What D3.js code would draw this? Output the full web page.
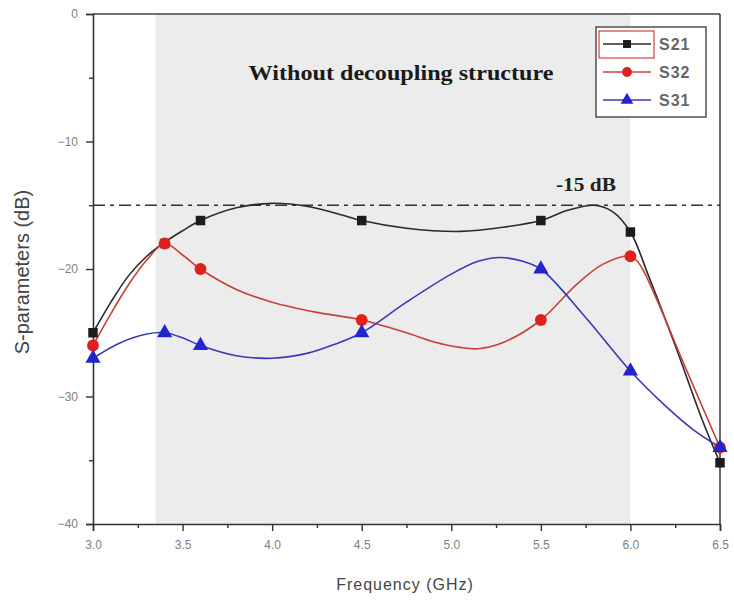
<!DOCTYPE html>
<html><head><meta charset="utf-8">
<script src="https://cdn.jsdelivr.net/npm/d3@7"></script>
<style>body{margin:0;background:#fff;}svg{display:block;}</style>
</head><body>
<svg id="c" width="734" height="605"></svg>
<script>
// ---- data ----
const xTicks = [3.0, 3.5, 4.0, 4.5, 5.0, 5.5, 6.0, 6.5];
const yTicks = [0, -10, -20, -30, -40];
const shadeBand = [3.35, 6.0];
const refLevel = -15;
const refLabel = "-15 dB";
const titleText = "Without decoupling structure";
const seriesNames = ["S21", "S32", "S31"];

const s21CurveF = [3.0,3.1,3.2,3.3,3.4,3.5,3.6,3.8,4.0,4.2,4.4,4.5,4.75,5.05,5.3,5.5,5.65,5.8,5.9,6.0,6.1,6.25,6.4,6.5];
const s21CurveV = [-25.0,-22.6,-20.5,-19.0,-17.9,-17.0,-16.2,-15.2,-14.85,-15.1,-15.8,-16.2,-16.8,-17.05,-16.7,-16.2,-15.4,-15.0,-15.5,-17.1,-20.5,-26.0,-31.8,-35.2];
const s32CurveF = [3.0,3.1,3.2,3.3,3.4,3.5,3.6,3.8,4.0,4.25,4.5,4.75,4.9,5.05,5.15,5.3,5.5,5.7,5.85,6.0,6.05,6.15,6.3,6.5];
const s32CurveV = [-26.0,-23.5,-21.2,-19.3,-18.0,-18.9,-20.0,-21.6,-22.6,-23.4,-24.0,-25.0,-25.7,-26.15,-26.25,-25.7,-24.0,-21.2,-19.6,-19.0,-19.6,-22.5,-27.5,-34.0];
const s31CurveF = [3.0,3.15,3.3,3.4,3.5,3.6,3.8,4.0,4.2,4.35,4.5,4.75,5.0,5.15,5.27,5.4,5.5,5.75,6.0,6.2,6.35,6.5];
const s31CurveV = [-27.0,-25.8,-25.1,-25.0,-25.4,-26.0,-26.8,-27.0,-26.6,-25.9,-25.0,-22.6,-20.4,-19.4,-19.1,-19.4,-20.0,-23.8,-28.0,-30.8,-32.6,-34.0];

const markerF = [3.0, 3.4, 3.6, 4.5, 5.5, 6.0, 6.5];
const s21MarkV = [-25.0, -18.0, -16.2, -16.2, -16.2, -17.1, -35.2];
const s32MarkV = [-26.0, -18.0, -20.0, -24.0, -24.0, -19.0, -34.0];
const s31MarkV = [-27.0, -25.0, -26.0, -25.0, -20.0, -28.0, -34.0];

// ---- layout ----
const svg = d3.select("#c");
const L = 93, R = 720, T = 14, B = 524;
const x = d3.scaleLinear().domain([3.0, 6.5]).range([L, R]);
const y = d3.scaleLinear().domain([-40, 0]).range([B, T]);
const font = "Arial, 'Liberation Sans', sans-serif";
const serif = "'Liberation Serif', 'Times New Roman', serif";

// shaded band
svg.append("rect").attr("x", x(shadeBand[0])).attr("y", T)
  .attr("width", x(shadeBand[1]) - x(shadeBand[0])).attr("height", B - T)
  .attr("fill", "#ececec");

// frame (top, right)
svg.append("line").attr("x1", L).attr("x2", R).attr("y1", T).attr("y2", T).attr("stroke", "#444").attr("stroke-width", 1.6);
svg.append("line").attr("x1", R).attr("x2", R).attr("y1", T).attr("y2", B).attr("stroke", "#444").attr("stroke-width", 1.6);

// axes
const xAxis = d3.axisBottom(x).tickValues(xTicks).tickFormat(d3.format(".1f")).tickSizeOuter(0).tickSize(7).tickPadding(9);
svg.append("g").attr("transform", `translate(0,${B})`).call(xAxis);
const xMinor = d3.axisBottom(x).tickValues(d3.range(3.25, 6.5, 0.5)).tickFormat("").tickSize(4).tickSizeOuter(0);
svg.append("g").attr("transform", `translate(0,${B})`).call(xMinor).select(".domain").remove();

const yAxis = d3.axisLeft(y).tickValues(yTicks).tickFormat(d3.format("d")).tickSizeOuter(0).tickSize(7).tickPadding(8);
svg.append("g").attr("transform", `translate(${L},0)`).call(yAxis);
const yMinor = d3.axisLeft(y).tickValues([-5, -15, -25, -35]).tickFormat("").tickSize(4).tickSizeOuter(0);
svg.append("g").attr("transform", `translate(${L},0)`).call(yMinor).select(".domain").remove();

svg.selectAll(".domain").attr("stroke", "#333").attr("stroke-width", 1.6);
svg.selectAll(".tick line").attr("stroke", "#333").attr("stroke-width", 1.4);
svg.selectAll(".tick text").attr("fill", "#808080").attr("font-family", font).attr("font-size", 12);

// axis titles
svg.append("text").attr("x", 405).attr("y", 590).attr("text-anchor", "middle")
  .attr("font-family", font).attr("font-size", 16).attr("letter-spacing", 1).attr("fill", "#444")
  .text("Frequency (GHz)");
svg.append("text").attr("transform", "translate(29,272) rotate(-90)").attr("text-anchor", "middle")
  .attr("font-family", font).attr("font-size", 20).attr("fill", "#444")
  .text("S-parameters (dB)");

// reference dash-dot line
svg.append("line").attr("x1", L).attr("x2", R).attr("y1", y(refLevel)).attr("y2", y(refLevel))
  .attr("stroke", "#333").attr("stroke-width", 1.4).attr("stroke-dasharray", "12,5,4,5");
svg.append("text").attr("x", 586).attr("y", 191).attr("text-anchor", "middle")
  .attr("font-family", serif).attr("font-weight", "bold").attr("font-size", 19).attr("fill", "#222")
  .attr("textLength", 60).attr("lengthAdjust", "spacingAndGlyphs")
  .text(refLabel);

// title text
svg.append("text").attr("x", 401).attr("y", 80).attr("text-anchor", "middle")
  .attr("font-family", serif).attr("font-weight", "bold").attr("font-size", 21).attr("fill", "#1a1a1a")
  .attr("textLength", 305).attr("lengthAdjust", "spacingAndGlyphs")
  .text(titleText);

// series
const line = d3.line().x(d => x(d[0])).y(d => y(d[1])).curve(d3.curveCatmullRom.alpha(0.5));
const zip = (a, b) => a.map((v, i) => [v, b[i]]);
const series = [
  {name: seriesNames[0], color: "#1c1c1c", curve: zip(s21CurveF, s21CurveV), marks: zip(markerF, s21MarkV), shape: d3.symbolSquare, size: 90},
  {name: seriesNames[1], color: "#e0201c", curve: zip(s32CurveF, s32CurveV), marks: zip(markerF, s32MarkV), shape: d3.symbolCircle, size: 110},
  {name: seriesNames[2], color: "#2323d0", curve: zip(s31CurveF, s31CurveV), marks: zip(markerF, s31MarkV), shape: d3.symbolTriangle, size: 100}
];
const lineColors = ["#2a2a2a", "#c8403a", "#3a3ab8"];
series.forEach((s, i) => {
  svg.append("path").datum(s.curve).attr("d", line).attr("fill", "none")
    .attr("stroke", lineColors[i]).attr("stroke-width", 1.6);
});
series.forEach(s => {
  svg.append("g").selectAll("path").data(s.marks).join("path")
    .attr("transform", d => `translate(${x(d[0])},${y(d[1])})`)
    .attr("d", d3.symbol().type(s.shape).size(s.size))
    .attr("fill", s.color);
});

// legend
const lg = svg.append("g");
lg.append("rect").attr("x", 596).attr("y", 27).attr("width", 110).attr("height", 90)
  .attr("fill", "#fff").attr("stroke", "#444").attr("stroke-width", 1.4);
lg.append("rect").attr("x", 599).attr("y", 31).attr("width", 55).attr("height", 27)
  .attr("fill", "none").attr("stroke", "#d04040").attr("stroke-width", 1.2);
series.forEach((s, i) => {
  const yy = 44 + i * 28;
  lg.append("line").attr("x1", 603).attr("x2", 651).attr("y1", yy).attr("y2", yy)
    .attr("stroke", lineColors[i]).attr("stroke-width", 1.6);
  lg.append("path").attr("transform", `translate(627,${yy})`)
    .attr("d", d3.symbol().type(s.shape).size(s.size * 0.7)).attr("fill", s.color);
  lg.append("text").attr("x", 659).attr("y", yy + 5.5)
    .attr("font-family", font).attr("font-size", 16).attr("font-weight", "bold").attr("fill", "#666")
    .attr("letter-spacing", 1).text(s.name);
});
</script>
</body></html>
